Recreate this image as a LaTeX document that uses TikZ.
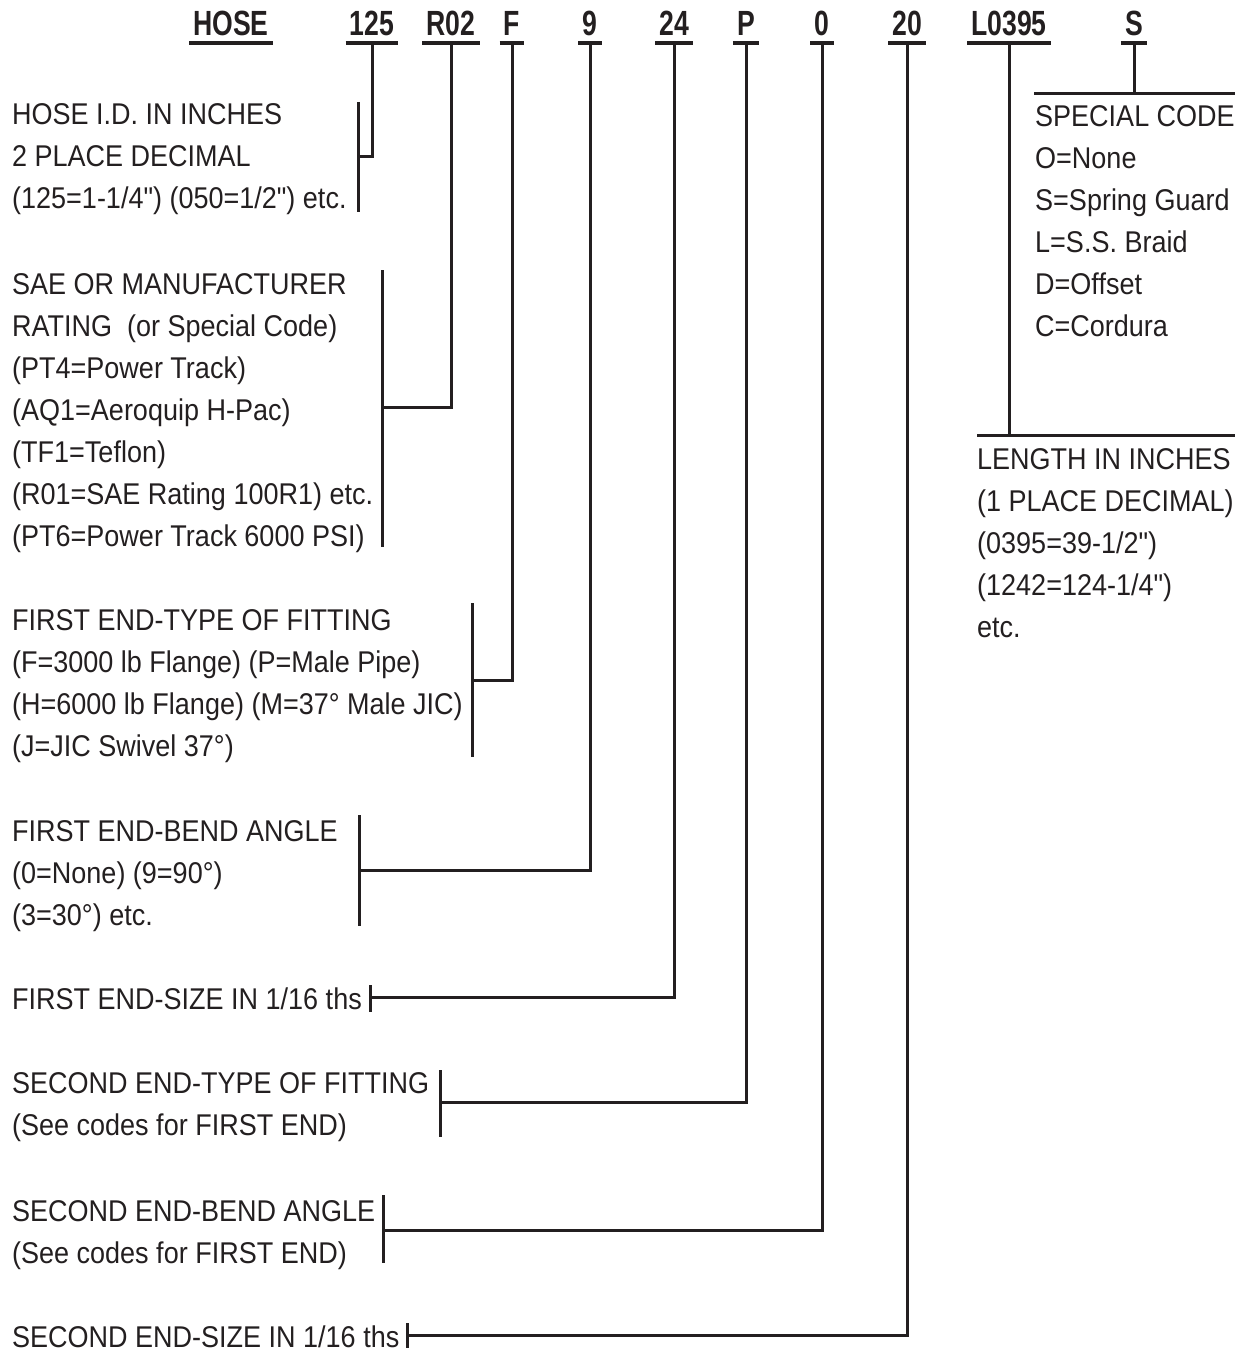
\documentclass[tikz,border=0pt]{standalone}
\usepackage{fontspec}
\newfontfamily\bodyfont[FakeStretch=0.9]{Liberation Sans}
\newfontfamily\hdrfont[FakeStretch=0.76]{Liberation Sans}
\usetikzlibrary{calc}
\definecolor{ink}{HTML}{231F20}
\begin{document}
\begin{tikzpicture}[x=1pt,y=-1pt,
 txt/.style={anchor=base west,inner sep=0pt,text=ink,font=\bodyfont\fontsize{30}{42}\selectfont},
 hdr/.style={anchor=base,inner sep=0pt,text=ink,font=\hdrfont\bfseries\fontsize{35}{36}\selectfont},
 uline/.style={draw=ink,line width=4pt},
 link/.style={draw=ink,line width=3pt},
]
\useasboundingbox (0,0) rectangle (1247,1351);

% header codes
\node[hdr] (hHose) at (231,36) {HOSE};
\node[hdr] (h125) at (372,36) {125};
\node[hdr] (hR) at (451,36) {R02};
\node[hdr] (hF) at (512,36) {F};
\node[hdr] (h9) at (590,36) {9};
\node[hdr] (h24) at (674,36) {24};
\node[hdr] (hP) at (746,36) {P};
\node[hdr] (h0) at (822,36) {0};
\node[hdr] (h20) at (907,36) {20};
\node[hdr] (hL) at (1009,36) {L0395};
\node[hdr] (hS) at (1134,36) {S};

\foreach \h in {hHose,h125,hR,hF,h9,h24,hP,h0,h20,hL,hS}{
  \draw[uline] ($(\h.base west)+(-4,7)$) -- ($(\h.base east)+(4,7)$);
  \coordinate (u\h) at ($(\h.base)+(0,7)$);
}

% text blocks
\node[txt] (b1) at (12,125) {\vtop{\hbox{HOSE I.D. IN INCHES}\hbox{2 PLACE DECIMAL}\hbox{(125=1-1/4") (050=1/2") etc.}}};
\node[txt] (b2) at (12,294) {\vtop{\hbox{SAE OR MANUFACTURER}\hbox{RATING\ \ (or Special Code)}\hbox{(PT4=Power Track)}\hbox{(AQ1=Aeroquip H-Pac)}\hbox{(TF1=Teflon)}\hbox{(R01=SAE Rating 100R1) etc.}\hbox{(PT6=Power Track 6000 PSI)}}};
\node[txt] (b3) at (12,630) {\vtop{\hbox{FIRST END-TYPE OF FITTING}\hbox{(F=3000 lb Flange) (P=Male Pipe)}\hbox{(H=6000 lb Flange) (M=37° Male JIC)}\hbox{(J=JIC Swivel 37°)}}};
\node[txt] (b4) at (12,841) {\vtop{\hbox{FIRST END-BEND ANGLE}\hbox{(0=None) (9=90°)}\hbox{(3=30°) etc.}}};
\node[txt] (b5) at (12,1009) {FIRST END-SIZE IN 1/16 ths};
\node[txt] (b6) at (12,1093) {\vtop{\hbox{SECOND END-TYPE OF FITTING}\hbox{(See codes for FIRST END)}}};
\node[txt] (b7) at (12,1221) {\vtop{\hbox{SECOND END-BEND ANGLE}\hbox{(See codes for FIRST END)}}};
\node[txt] (b8) at (12,1347) {SECOND END-SIZE IN 1/16 ths};
\node[txt] (sc) at (1035,127) {\vtop{\hbox{SPECIAL CODE}\hbox{O=None}\hbox{S=Spring Guard}\hbox{L=S.S. Braid}\hbox{D=Offset}\hbox{C=Cordura}}};
\node[txt] (ln) at (977,469) {\vtop{\hbox{LENGTH IN INCHES}\hbox{(1 PLACE DECIMAL)}\hbox{(0395=39-1/2")}\hbox{(1242=124-1/4")}\hbox{etc.}}};

% bracket coordinates
\coordinate (k1t) at (358,102);  \coordinate (k1b) at (358,212);  \coordinate (k1) at (358,157);
\coordinate (k2t) at (382,270);  \coordinate (k2b) at (382,547);  \coordinate (k2) at (382,407);
\coordinate (k3t) at (472,603);  \coordinate (k3b) at (472,757);  \coordinate (k3) at (472,680);
\coordinate (k4t) at (359,815);  \coordinate (k4b) at (359,926);  \coordinate (k4) at (359,870);
\coordinate (k5t) at (370,985);  \coordinate (k5b) at (370,1012); \coordinate (k5) at (370,997);
\coordinate (k6t) at (440,1070); \coordinate (k6b) at (440,1137); \coordinate (k6) at (440,1102);
\coordinate (k7t) at (383,1195); \coordinate (k7b) at (383,1263); \coordinate (k7) at (383,1230);
\coordinate (k8t) at (407,1323); \coordinate (k8b) at (407,1348); \coordinate (k8) at (407,1335);
\coordinate (scl) at (1034,94);  \coordinate (scr) at (1235,94);
\coordinate (lnl) at (977,435);  \coordinate (lnr) at (1235,435);

\foreach \i in {1,...,8}{ \draw[link] (k\i t) -- (k\i b); }

\draw[link] (uh125) |- (k1);
\draw[link] (uhR) |- (k2);
\draw[link] (uhF) |- (k3);
\draw[link] (uh9) |- (k4);
\draw[link] (uh24) |- (k5);
\draw[link] (uhP) |- (k6);
\draw[link] (uh0) |- (k7);
\draw[link] (uh20) |- (k8);

\draw[link] (scl) -- (scr);
\draw[link] (uhS) -- (uhS |- scl);
\draw[link] (lnl) -- (lnr);
\draw[link] (uhL) -- (uhL |- lnl);
\end{tikzpicture}
\end{document}
